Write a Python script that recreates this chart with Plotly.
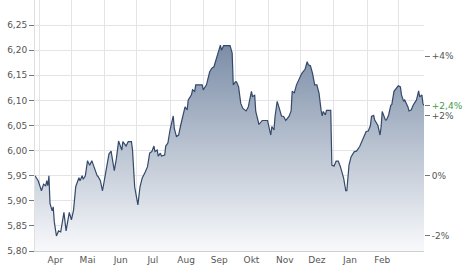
import plotly.graph_objects as go

dates = [
    "2023-03-28", "2023-03-31", "2023-04-03", "2023-04-05", "2023-04-07", "2023-04-08", "2023-04-09", "2023-04-10",
    "2023-04-11", "2023-04-13", "2023-04-14", "2023-04-15", "2023-04-17", "2023-04-19", "2023-04-21", "2023-04-24",
    "2023-04-26", "2023-04-29", "2023-05-01", "2023-05-03", "2023-05-05", "2023-05-08", "2023-05-09", "2023-05-11",
    "2023-05-12", "2023-05-14", "2023-05-16", "2023-05-18", "2023-05-20", "2023-05-22", "2023-05-25", "2023-05-26",
    "2023-05-28", "2023-05-30", "2023-06-02", "2023-06-05", "2023-06-07", "2023-06-10", "2023-06-12", "2023-06-14",
    "2023-06-17", "2023-06-18", "2023-06-21", "2023-06-23", "2023-06-26", "2023-06-27", "2023-06-29", "2023-06-30",
    "2023-07-02", "2023-07-04", "2023-07-06", "2023-07-09", "2023-07-11", "2023-07-13", "2023-07-15", "2023-07-17",
    "2023-07-18", "2023-07-20", "2023-07-21", "2023-07-23", "2023-07-24", "2023-07-27", "2023-07-28", "2023-07-30",
    "2023-08-01", "2023-08-04", "2023-08-05", "2023-08-07", "2023-08-09", "2023-08-11", "2023-08-14", "2023-08-15",
    "2023-08-17", "2023-08-18", "2023-08-21", "2023-08-22", "2023-08-24", "2023-08-25", "2023-08-29", "2023-08-31",
    "2023-09-01", "2023-09-04", "2023-09-07", "2023-09-09", "2023-09-11", "2023-09-13", "2023-09-15", "2023-09-17",
    "2023-09-18", "2023-09-20", "2023-09-26", "2023-09-28", "2023-09-29", "2023-10-01", "2023-10-02", "2023-10-04",
    "2023-10-06", "2023-10-08", "2023-10-11", "2023-10-13", "2023-10-16", "2023-10-17", "2023-10-19", "2023-10-20",
    "2023-10-23", "2023-10-26", "2023-10-31", "2023-11-01", "2023-11-03", "2023-11-04", "2023-11-06", "2023-11-07",
    "2023-11-09", "2023-11-11", "2023-11-13", "2023-11-15", "2023-11-17", "2023-11-20", "2023-11-22", "2023-11-23",
    "2023-11-25", "2023-11-27", "2023-11-30", "2023-12-02", "2023-12-05", "2023-12-07", "2023-12-08", "2023-12-10",
    "2023-12-12", "2023-12-14", "2023-12-16", "2023-12-18", "2023-12-20", "2023-12-21", "2023-12-22", "2023-12-24",
    "2023-12-25", "2023-12-29", "2023-12-30", "2024-01-01", "2024-01-03", "2024-01-05", "2024-01-07", "2024-01-10",
    "2024-01-12", "2024-01-13", "2024-01-15", "2024-01-17", "2024-01-20", "2024-01-22", "2024-01-25", "2024-01-27",
    "2024-01-28", "2024-01-31", "2024-02-02", "2024-02-04", "2024-02-05", "2024-02-07", "2024-02-08", "2024-02-11",
    "2024-02-13", "2024-02-14", "2024-02-15", "2024-02-16", "2024-02-18", "2024-02-19", "2024-02-21", "2024-02-23",
    "2024-02-24", "2024-02-26", "2024-02-28", "2024-03-01", "2024-03-03", "2024-03-04", "2024-03-06", "2024-03-07",
    "2024-03-10", "2024-03-11", "2024-03-13", "2024-03-15", "2024-03-18", "2024-03-20", "2024-03-21", "2024-03-23",
    "2024-03-24", "2024-03-25",
]

values = [
    5.950, 5.940, 5.920, 5.933, 5.930, 5.940, 5.930, 5.950,
    5.895, 5.880, 5.888, 5.858, 5.830, 5.840, 5.838, 5.877,
    5.840, 5.877, 5.862, 5.882, 5.928, 5.946, 5.940, 5.950,
    5.943, 5.950, 5.980, 5.971, 5.980, 5.966, 5.950, 5.948,
    5.940, 5.920, 5.953, 5.993, 5.999, 5.960, 5.985, 6.019,
    6.001, 6.018, 6.009, 6.018, 6.018, 6.001, 5.928, 5.918,
    5.892, 5.928, 5.945, 5.958, 5.968, 5.995, 5.998, 6.009,
    5.998, 6.001, 5.989, 5.995, 5.989, 5.991, 6.009, 6.015,
    6.041, 6.069, 6.044, 6.028, 6.031, 6.051, 6.081, 6.087,
    6.081, 6.101, 6.111, 6.121, 6.118, 6.131, 6.131, 6.131,
    6.121, 6.131, 6.157, 6.164, 6.167, 6.180, 6.197, 6.210,
    6.200, 6.209, 6.209, 6.194, 6.131, 6.137, 6.137, 6.127,
    6.094, 6.084, 6.079, 6.087, 6.118, 6.107, 6.111, 6.078,
    6.052, 6.060, 6.060, 6.049, 6.031, 6.048, 6.041, 6.068,
    6.098, 6.084, 6.069, 6.068, 6.060, 6.068, 6.079, 6.118,
    6.115, 6.131, 6.144, 6.154, 6.162, 6.177, 6.171, 6.169,
    6.154, 6.131, 6.131, 6.115, 6.080, 6.069, 6.078, 6.071,
    6.080, 6.080, 5.971, 5.969, 5.979, 5.979, 5.968, 5.945,
    5.920, 5.920, 5.971, 5.988, 5.998, 5.999, 6.008, 6.019,
    6.021, 6.038, 6.039, 6.050, 6.068, 6.070, 6.061, 6.050,
    6.031, 6.048, 6.078, 6.071, 6.061, 6.061, 6.071, 6.090,
    6.092, 6.118, 6.124, 6.129, 6.127, 6.111, 6.098, 6.101,
    6.087, 6.079, 6.081, 6.091, 6.101, 6.119, 6.107, 6.111,
    6.094, 6.090,
]

month_labels = ["Apr", "Mai", "Jun", "Jul", "Aug", "Sep", "Okt", "Nov", "Dez", "Jan", "Feb"]
month_label_dates = ["2023-04-16", "2023-05-16", "2023-06-16", "2023-07-16", "2023-08-16", "2023-09-16",
                     "2023-10-16", "2023-11-16", "2023-12-16", "2024-01-16", "2024-02-15"]
month_starts = ["2023-04-01", "2023-05-01", "2023-06-01", "2023-07-01", "2023-08-01", "2023-09-01",
                "2023-10-01", "2023-11-01", "2023-12-01", "2024-01-01", "2024-02-01", "2024-03-01"]
y_ticks = [5.80, 5.85, 5.90, 5.95, 6.00, 6.05, 6.10, 6.15, 6.20, 6.25]
pct_ticks = [-2, 0, 2, 4]
y_range = [5.80, 6.30]

base = values[0]
last_pct = (values[-1] / base - 1) * 100

def pct_label(p, dec=0):
    s = f"{p:+.{dec}f}%".replace(".", ",")
    return "0%" if p == 0 else s

pct_vals = pct_ticks + [last_pct]
pct_text = [pct_label(p) for p in pct_ticks] + [
    f'<span style="color:#3f9a4a">{pct_label(last_pct, 1)}</span>']

font = dict(family="DejaVu Sans, Verdana, sans-serif", size=9, color="#555555")

fig = go.Figure()
fig.add_trace(go.Scatter(
    x=dates, y=values, mode="lines",
    line=dict(color="#34496a", width=1.2),
    fill="tozeroy",
    fillgradient=dict(type="vertical", start=5.80, stop=6.21,
                      colorscale=[[0, "#f8f9fb"], [1, "#7b8da7"]]),
    hoverinfo="skip", showlegend=False,
))
# invisible trace to activate the right axis
fig.add_trace(go.Scatter(
    x=[dates[0], dates[-1]], y=[0, last_pct], yaxis="y2", mode="lines",
    line=dict(width=0, color="rgba(0,0,0,0)"), hoverinfo="skip", showlegend=False,
))

fig.update_layout(
    width=474, height=269,
    margin=dict(l=35, r=50, t=0, b=18),
    paper_bgcolor="white", plot_bgcolor="white",
    separators=",.",
    font=font,
    xaxis=dict(
        type="date",
        range=[dates[0], dates[-1]],
        tickmode="array", tickvals=month_label_dates, ticktext=month_labels,
        showgrid=False, ticks="", tickfont=font,
        showline=True, linecolor="#cfcfcf", linewidth=1, mirror=True,
        minor=dict(tickmode="array", tickvals=month_starts, showgrid=True,
                   gridcolor="#e4e4e8", gridwidth=1, ticks=""),
        zeroline=False, fixedrange=True,
    ),
    yaxis=dict(
        range=y_range, tickmode="array", tickvals=y_ticks, tickformat=".2f",
        showgrid=True, gridcolor="#e4e4e8", gridwidth=1,
        ticks="outside", ticklen=5, tickcolor="#777777", tickwidth=1,
        showline=True, linecolor="#e0e0e0", linewidth=1,
        zeroline=False, tickfont=font,
    ),
    yaxis2=dict(
        overlaying="y", side="right",
        range=[(y_range[0] / base - 1) * 100, (y_range[1] / base - 1) * 100],
        tickmode="array", tickvals=pct_vals, ticktext=pct_text,
        showgrid=False, zeroline=False,
        ticks="outside", ticklen=5, tickcolor="#777777", tickwidth=1,
        tickfont=font,
    ),
)

fig.write_html("out.html")
